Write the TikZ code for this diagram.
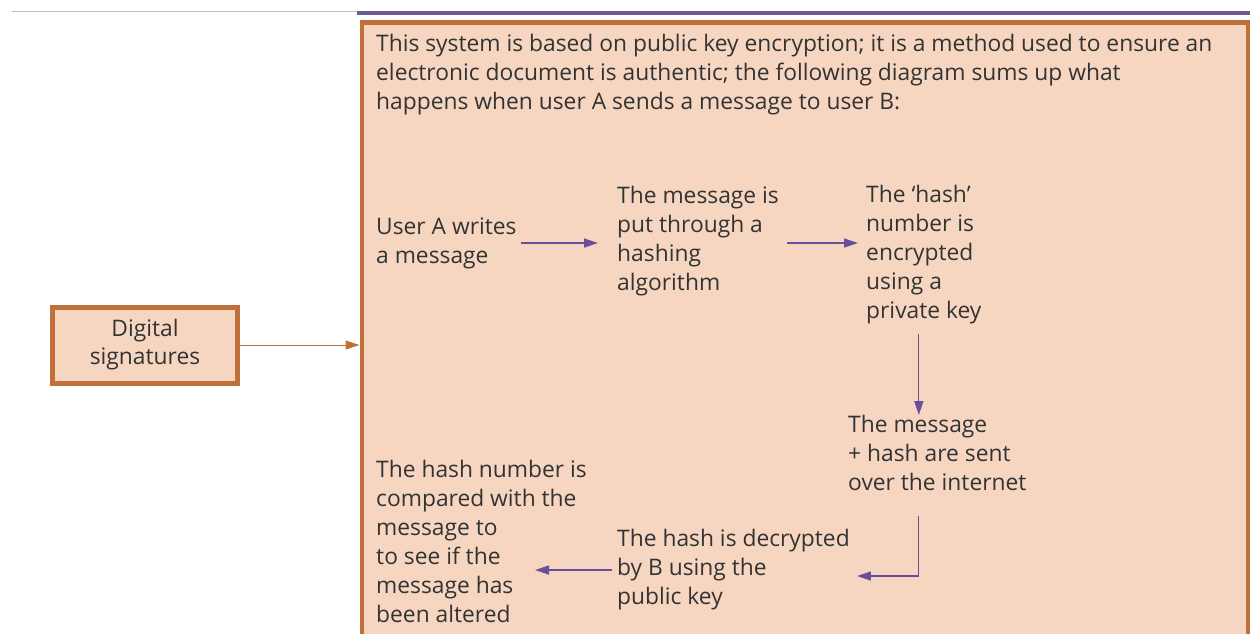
\documentclass[tikz,border=0pt]{standalone}
\usepackage{fontspec}
\setmainfont{Open Sans}
\usetikzlibrary{arrows.meta}
\definecolor{peach}{HTML}{F6D6C0}
\definecolor{rust}{HTML}{C0703A}
\definecolor{plum}{HTML}{6A4E9C}
\definecolor{ink}{HTML}{333333}
\begin{document}
\begin{tikzpicture}[
  x=1pt,y=-1pt,
  txt/.style={align=left, anchor=west, inner sep=0pt, text=ink, font=\fontsize{22.8}{29}\selectfont},
  flow/.style={plum, line width=1.3pt, -{Triangle[length=14pt,width=9pt]}},
  box/.style={draw=rust, line width=5pt, fill=peach, minimum width=185pt, minimum height=76pt, align=center, text=ink, font=\fontsize{22.8}{28}\selectfont}
]
\useasboundingbox (0,0) rectangle (1253,633);
\clip (0,0) rectangle (1253,633);

% header rules
\draw[black!25, line width=1pt] (12,11) -- (357,11);
\draw[plum!80!gray, line width=4pt] (357,13) -- (1250,13);

% panel
\node[draw=rust, line width=4.5pt, fill=peach, anchor=north west, minimum width=886pt, minimum height=640pt, inner sep=0pt] (panel) at (359.5,20) {};

\node[box] (sig) at (145,345) {Digital\\signatures};
\draw[rust, line width=1pt, -{Triangle[length=14pt,width=9pt]}] (sig.east) -- (sig.east -| panel.west);

\node[txt] (intro) at (376,75) {This system is based on public key encryption; it is a method used to ensure an\\electronic document is authentic; the following diagram sums up what\\happens when user A sends a message to user B:};

\node[txt] (write) at (376,243) {User A writes\\a message};
\node[txt] (hash) at (617,241.5) {The message is\\put through a\\hashing\\algorithm};
\node[txt] (encrypt) at (866,255) {The `hash'\\number is\\encrypted\\using a\\private key};
\node[txt] (send) at (848,453) {The message\\+ hash are sent\\over the internet};
\node[txt] (decrypt) at (617,569.5) {The hash is decrypted\\by B using the\\public key};
\node[txt] (check) at (376,541) {The hash number is\\compared with the\\message to\\to see if the\\message has\\been altered};
\coordinate (checkin) at (535,570);

\draw[flow] ([xshift=4pt]write.east) -- ([xshift=-19pt]hash.west |- write.east);
\draw[flow] ([xshift=8pt]hash.east |- write.east) -- ([xshift=-8pt]encrypt.west |- write.east);
\draw[flow] ([shift={(-5,9)}]encrypt.south) -- ([xshift=-5pt]encrypt.south |- send.north);
\draw[flow] ([xshift=-5pt,yshift=-25pt]encrypt.south |- send.south) |- ([shift={(7,6.5)}]decrypt.east);
\draw[flow] ([xshift=-5pt]decrypt.west |- checkin) -- (checkin);
\end{tikzpicture}
\end{document}
